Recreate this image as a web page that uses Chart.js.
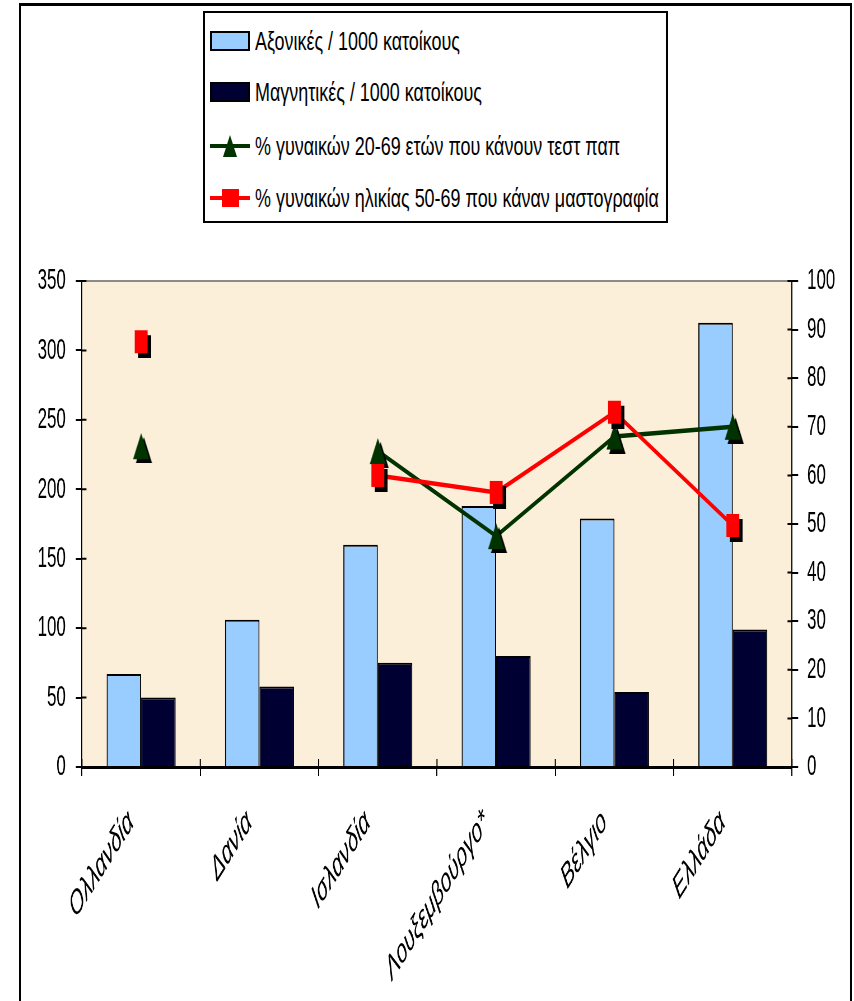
<!DOCTYPE html>
<html>
<head>
<meta charset="utf-8">
<script src="https://cdn.jsdelivr.net/npm/chart.js@4.4.1/dist/chart.umd.min.js"></script>
<style>
  html, body { margin: 0; padding: 0; background: #fff; width: 854px; height: 1001px; overflow: hidden; }
  #frame { position: absolute; left: 19px; top: 3px; width: 829px; height: 1100px;
           border-top: 3px solid #000; border-left: 2px solid #000; border-right: 2px solid #000; }
  #stage { position: absolute; left: 0; top: 0; width: 1525px; height: 1001px;
           transform: scaleX(0.56); transform-origin: 0 0; }
  #legend { position: absolute; left: 203px; top: 11px; width: 461px; height: 208px;
            border: 2px solid #000; background: #fff; font-family: "Liberation Sans", Arial, sans-serif; }
  .item { position: absolute; left: 5px; height: 30px; display: flex; align-items: center; }
  .item canvas { display: block; }
  .item span { font-size: 26px; white-space: nowrap; color: #000; display: inline-block;
               transform: scaleX(0.69); transform-origin: 0 50%; margin-left: 5px; }
</style>
</head>
<body>
<div id="frame"></div>
<div id="stage"><canvas id="chart" width="1525" height="1001"></canvas></div>
<div id="legend"></div>
<script>
// Countries and the four series
const categories = ['Ολλανδία', 'Δανία', 'Ισλανδία', 'Λουξεμβούργο*', 'Βέλγιο', 'Ελλάδα'];
const axialPer1000 = [67, 106, 160, 188, 179, 320];
const mriPer1000 = [50, 58, 75, 80, 54, 99];
const papTestPct = [66, null, 65, 47.5, 68, 70];
const mammographyPct = [87.5, null, 60, 56.5, 73, 49.7];
const seriesLabels = [
  'Αξονικές / 1000 κατοίκους',
  'Μαγνητικές / 1000 κατοίκους',
  '% γυναικών 20-69 ετών που κάνουν τεστ παπ',
  '% γυναικών ηλικίας 50-69 που κάναν μαστογραφία'
];
// Axis ranges and steps
const leftAxisMax = 350, leftAxisStep = 50;
const rightAxisMax = 100, rightAxisStep = 10;

const FONT = '"Liberation Sans", Arial, sans-serif';
const COLORS = { axial: '#99CCFF', mri: '#000033', pap: '#003300', mammo: '#FF0000', plot: '#FBEFD9' };

// Marker bitmaps with a hard drop shadow, centred on the point
function markerCanvas(kind, color, w, h, ox, oy) {
  const c = document.createElement('canvas');
  c.width = Math.ceil(w + 2 * ox);
  c.height = Math.ceil(h + 2 * oy);
  const g = c.getContext('2d');
  const shape = (x0, y0, fill) => {
    g.fillStyle = fill;
    g.beginPath();
    if (kind === 'rect') g.rect(x0, y0, w, h);
    else { g.moveTo(x0 + w / 2, y0); g.lineTo(x0 + w, y0 + h); g.lineTo(x0, y0 + h); g.closePath(); }
    g.fill();
  };
  shape(2 * ox, 2 * oy, '#000');
  shape(ox, oy, color);
  return c;
}
const triMarker = markerCanvas('tri', COLORS.pap, 29, 26, 5, 4);
const sqMarker = markerCanvas('rect', COLORS.mammo, 23, 23, 6, 5);

// Plot-area fill and top edge
const plotBackground = {
  id: 'plotBackground',
  beforeDraw(chart) {
    const { ctx, chartArea: a } = chart;
    ctx.save();
    ctx.fillStyle = COLORS.plot;
    ctx.fillRect(a.left, a.top, a.right - a.left, a.bottom - a.top);
    ctx.strokeStyle = '#8a8a8a';
    ctx.lineWidth = 2;
    ctx.beginPath();
    ctx.moveTo(a.left, a.top);
    ctx.lineTo(a.right, a.top);
    ctx.stroke();
    ctx.restore();
  }
};

// Inner half of the tick marks so they cross the axis lines
const crossTicks = {
  id: 'crossTicks',
  afterDraw(chart) {
    const { ctx, chartArea: a, scales } = chart;
    ctx.save();
    ctx.strokeStyle = '#000';
    ctx.lineWidth = 2;
    ctx.beginPath();
    scales.y.ticks.forEach((t, i) => {
      const p = scales.y.getPixelForTick(i);
      ctx.moveTo(a.left, p); ctx.lineTo(a.left + 8, p);
    });
    scales.y1.ticks.forEach((t, i) => {
      const p = scales.y1.getPixelForTick(i);
      ctx.moveTo(a.right - 8, p); ctx.lineTo(a.right, p);
    });
    const xs = scales.x;
    const half = (xs.getPixelForValue(1) - xs.getPixelForValue(0)) / 2;
    for (let i = 0; i <= categories.length; i++) {
      const p = xs.getPixelForValue(0) - half + i * 2 * half;
      ctx.moveTo(p, a.bottom); ctx.lineTo(p, a.bottom - 8);
    }
    ctx.stroke();
    ctx.restore();
  }
};

const tickFont = { family: FONT, size: 30 };

const chart = new Chart(document.getElementById('chart'), {
  data: {
    labels: categories,
    datasets: [
      { type: 'bar', label: seriesLabels[0], data: axialPer1000, yAxisID: 'y',
        backgroundColor: COLORS.axial, borderColor: '#000', borderWidth: 2,
        categoryPercentage: 0.583, barPercentage: 1.0, order: 2 },
      { type: 'bar', label: seriesLabels[1], data: mriPer1000, yAxisID: 'y',
        backgroundColor: COLORS.mri, borderColor: '#000', borderWidth: 2,
        categoryPercentage: 0.583, barPercentage: 1.0, order: 3 },
      { type: 'line', label: seriesLabels[2], data: papTestPct, yAxisID: 'y1',
        borderColor: COLORS.pap, backgroundColor: COLORS.pap, borderWidth: 4.5,
        pointStyle: triMarker, pointRadius: 10, spanGaps: false, tension: 0, order: 1 },
      { type: 'line', label: seriesLabels[3], data: mammographyPct, yAxisID: 'y1',
        borderColor: COLORS.mammo, backgroundColor: COLORS.mammo, borderWidth: 4.5,
        pointStyle: sqMarker, pointRadius: 10, spanGaps: false, tension: 0, order: 0 }
    ]
  },
  options: {
    responsive: false,
    animation: false,
    devicePixelRatio: 1,
    layout: { padding: { top: 281, left: 0, right: 0, bottom: 0 } },
    plugins: { legend: { display: false }, tooltip: { enabled: false } },
    scales: {
      x: {
        offset: true,
        grid: { offset: true, drawOnChartArea: false, tickLength: 9, color: '#000', lineWidth: 2 },
        border: { color: '#000', width: 3 },
        ticks: { minRotation: 42, maxRotation: 42, padding: 26, labelOffset: -18, color: '#000',
                 font: { family: FONT, size: 34, style: 'italic' } },
        afterFit(s) { s.height = 1001 - 767; }
      },
      y: {
        position: 'left', min: 0, max: leftAxisMax,
        ticks: { stepSize: leftAxisStep, padding: 18, color: '#000', font: tickFont },
        grid: { drawOnChartArea: false, tickLength: 11, color: '#000', lineWidth: 2 },
        border: { color: '#000', width: 2 },
        afterFit(s) { s.width = 146.4; }
      },
      y1: {
        position: 'right', min: 0, max: rightAxisMax,
        ticks: { stepSize: rightAxisStep, padding: 16, color: '#000', font: tickFont },
        grid: { drawOnChartArea: false, tickLength: 11, color: '#000', lineWidth: 2 },
        border: { color: '#000', width: 2 },
        afterFit(s) { s.width = 1525 - 1414.3; }
      }
    }
  },
  plugins: [plotBackground, crossTicks]
});

// Legend built from the chart's datasets
(function buildLegend() {
  const box = document.getElementById('legend');
  const tops = [13, 64, 118, 170];
  chart.data.datasets.forEach((ds, i) => {
    const item = document.createElement('div');
    item.className = 'item';
    item.style.top = tops[i] + 'px';
    const c = document.createElement('canvas');
    c.width = 40; c.height = 30;
    const g = c.getContext('2d');
    if (ds.type === 'bar') {
      g.fillStyle = ds.backgroundColor;
      g.fillRect(1, 6, 38, 18);
      g.strokeStyle = '#000'; g.lineWidth = 2;
      g.strokeRect(1, 6, 38, 18);
    } else {
      g.strokeStyle = ds.borderColor; g.lineWidth = 4;
      g.beginPath(); g.moveTo(0, 15); g.lineTo(40, 15); g.stroke();
      g.fillStyle = ds.borderColor;
      g.beginPath();
      if (ds.pointStyle === triMarker) { g.moveTo(20, 4); g.lineTo(27, 26); g.lineTo(13, 26); g.closePath(); }
      else { g.rect(12, 6, 17, 18); }
      g.fill();
    }
    const t = document.createElement('span');
    t.textContent = ds.label;
    item.appendChild(c);
    item.appendChild(t);
    box.appendChild(item);
  });
})();
</script>
</body>
</html>
